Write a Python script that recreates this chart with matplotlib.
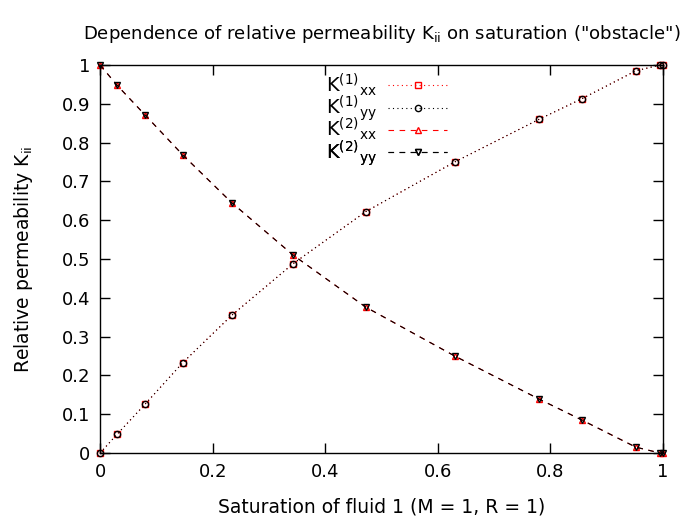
import numpy as np
import matplotlib
matplotlib.use('Agg')
import matplotlib.pyplot as plt

# saturation values
sat = [0.0, 0.030, 0.080, 0.147, 0.234, 0.343, 0.472, 0.630, 0.780, 0.856, 0.952, 0.995, 1.0]
k1_xx = [0.0, 0.048, 0.126, 0.233, 0.355, 0.488, 0.622, 0.750, 0.860, 0.913, 0.985, 1.0, 1.0]
k1_yy = [0.0, 0.048, 0.126, 0.233, 0.355, 0.488, 0.622, 0.750, 0.860, 0.913, 0.985, 1.0, 1.0]
k2_xx = [1.0, 0.948, 0.871, 0.768, 0.645, 0.510, 0.376, 0.250, 0.139, 0.085, 0.015, 0.0, 0.0]
k2_yy = [1.0, 0.948, 0.871, 0.768, 0.645, 0.510, 0.376, 0.250, 0.139, 0.085, 0.015, 0.0, 0.0]

labels = [r'K$^{(1)}{}_{\rm xx}$', r'K$^{(1)}{}_{\rm yy}$',
          r'K$^{(2)}{}_{\rm xx}$', r'K$^{(2)}{}_{\rm yy}$']

fig = plt.figure(figsize=(7.0, 5.24), dpi=100)
ax = fig.add_axes([0.143, 0.1355, 0.804, 0.7405])

dot = (0, (1, 3))
dash = (0, (5, 5))
lines = []
lines += ax.plot(sat, k1_xx, color='red', ls=dot, lw=0.8, marker='s', ms=5,
                 mfc='none', mew=1, clip_on=False)
lines += ax.plot(sat, k1_yy, color='black', ls=dot, lw=0.8, marker='o', ms=4.5,
                 mfc='none', mew=1, clip_on=False)
lines += ax.plot(sat, k2_xx, color='red', ls=dash, lw=0.8, marker='^', ms=5,
                 mfc='none', mew=1, clip_on=False)
lines += ax.plot(sat, k2_yy, color='black', ls=dash, lw=0.8, marker='v', ms=5,
                 mfc='none', mew=1, clip_on=False)

ax.set_xlim(0, 1)
ax.set_ylim(0, 1)
ax.set_xticks(np.arange(0, 1.01, 0.2))
ax.set_yticks(np.arange(0, 1.01, 0.1))
ax.set_xticklabels(['0', '0.2', '0.4', '0.6', '0.8', '1'])
ax.set_yticklabels(['0', '0.1', '0.2', '0.3', '0.4', '0.5', '0.6', '0.7', '0.8', '0.9', '1'])
ax.tick_params(direction='in', top=True, right=True, length=7, width=1,
               labelsize=13, pad=7)
for s in ax.spines.values():
    s.set_linewidth(1)

ax.set_title(r'Dependence of relative permeability K$_{\rm ii}$ on saturation ("obstacle")',
             fontsize=13.1, pad=19)
ax.set_xlabel('Saturation of fluid 1 (M = 1, R = 1)', fontsize=13.5, labelpad=12)
ax.set_ylabel(r'Relative permeability K$_{\rm ii}$', fontsize=13.5, labelpad=19)

# gnuplot style key: one row per legend so the rows are evenly spaced
row_tops = [0.983, 0.926, 0.869, 0.812]
for i, (ln, lab) in enumerate(zip(lines, labels)):
    leg = ax.legend([ln], [lab], loc='upper right', bbox_to_anchor=(0.616, row_tops[i]),
                    frameon=False, markerfirst=False, fontsize=14, handlelength=3.0,
                    handletextpad=0.6, borderpad=0, borderaxespad=0)
    ax.add_artist(leg)

fig.savefig('out.png', dpi=100)
